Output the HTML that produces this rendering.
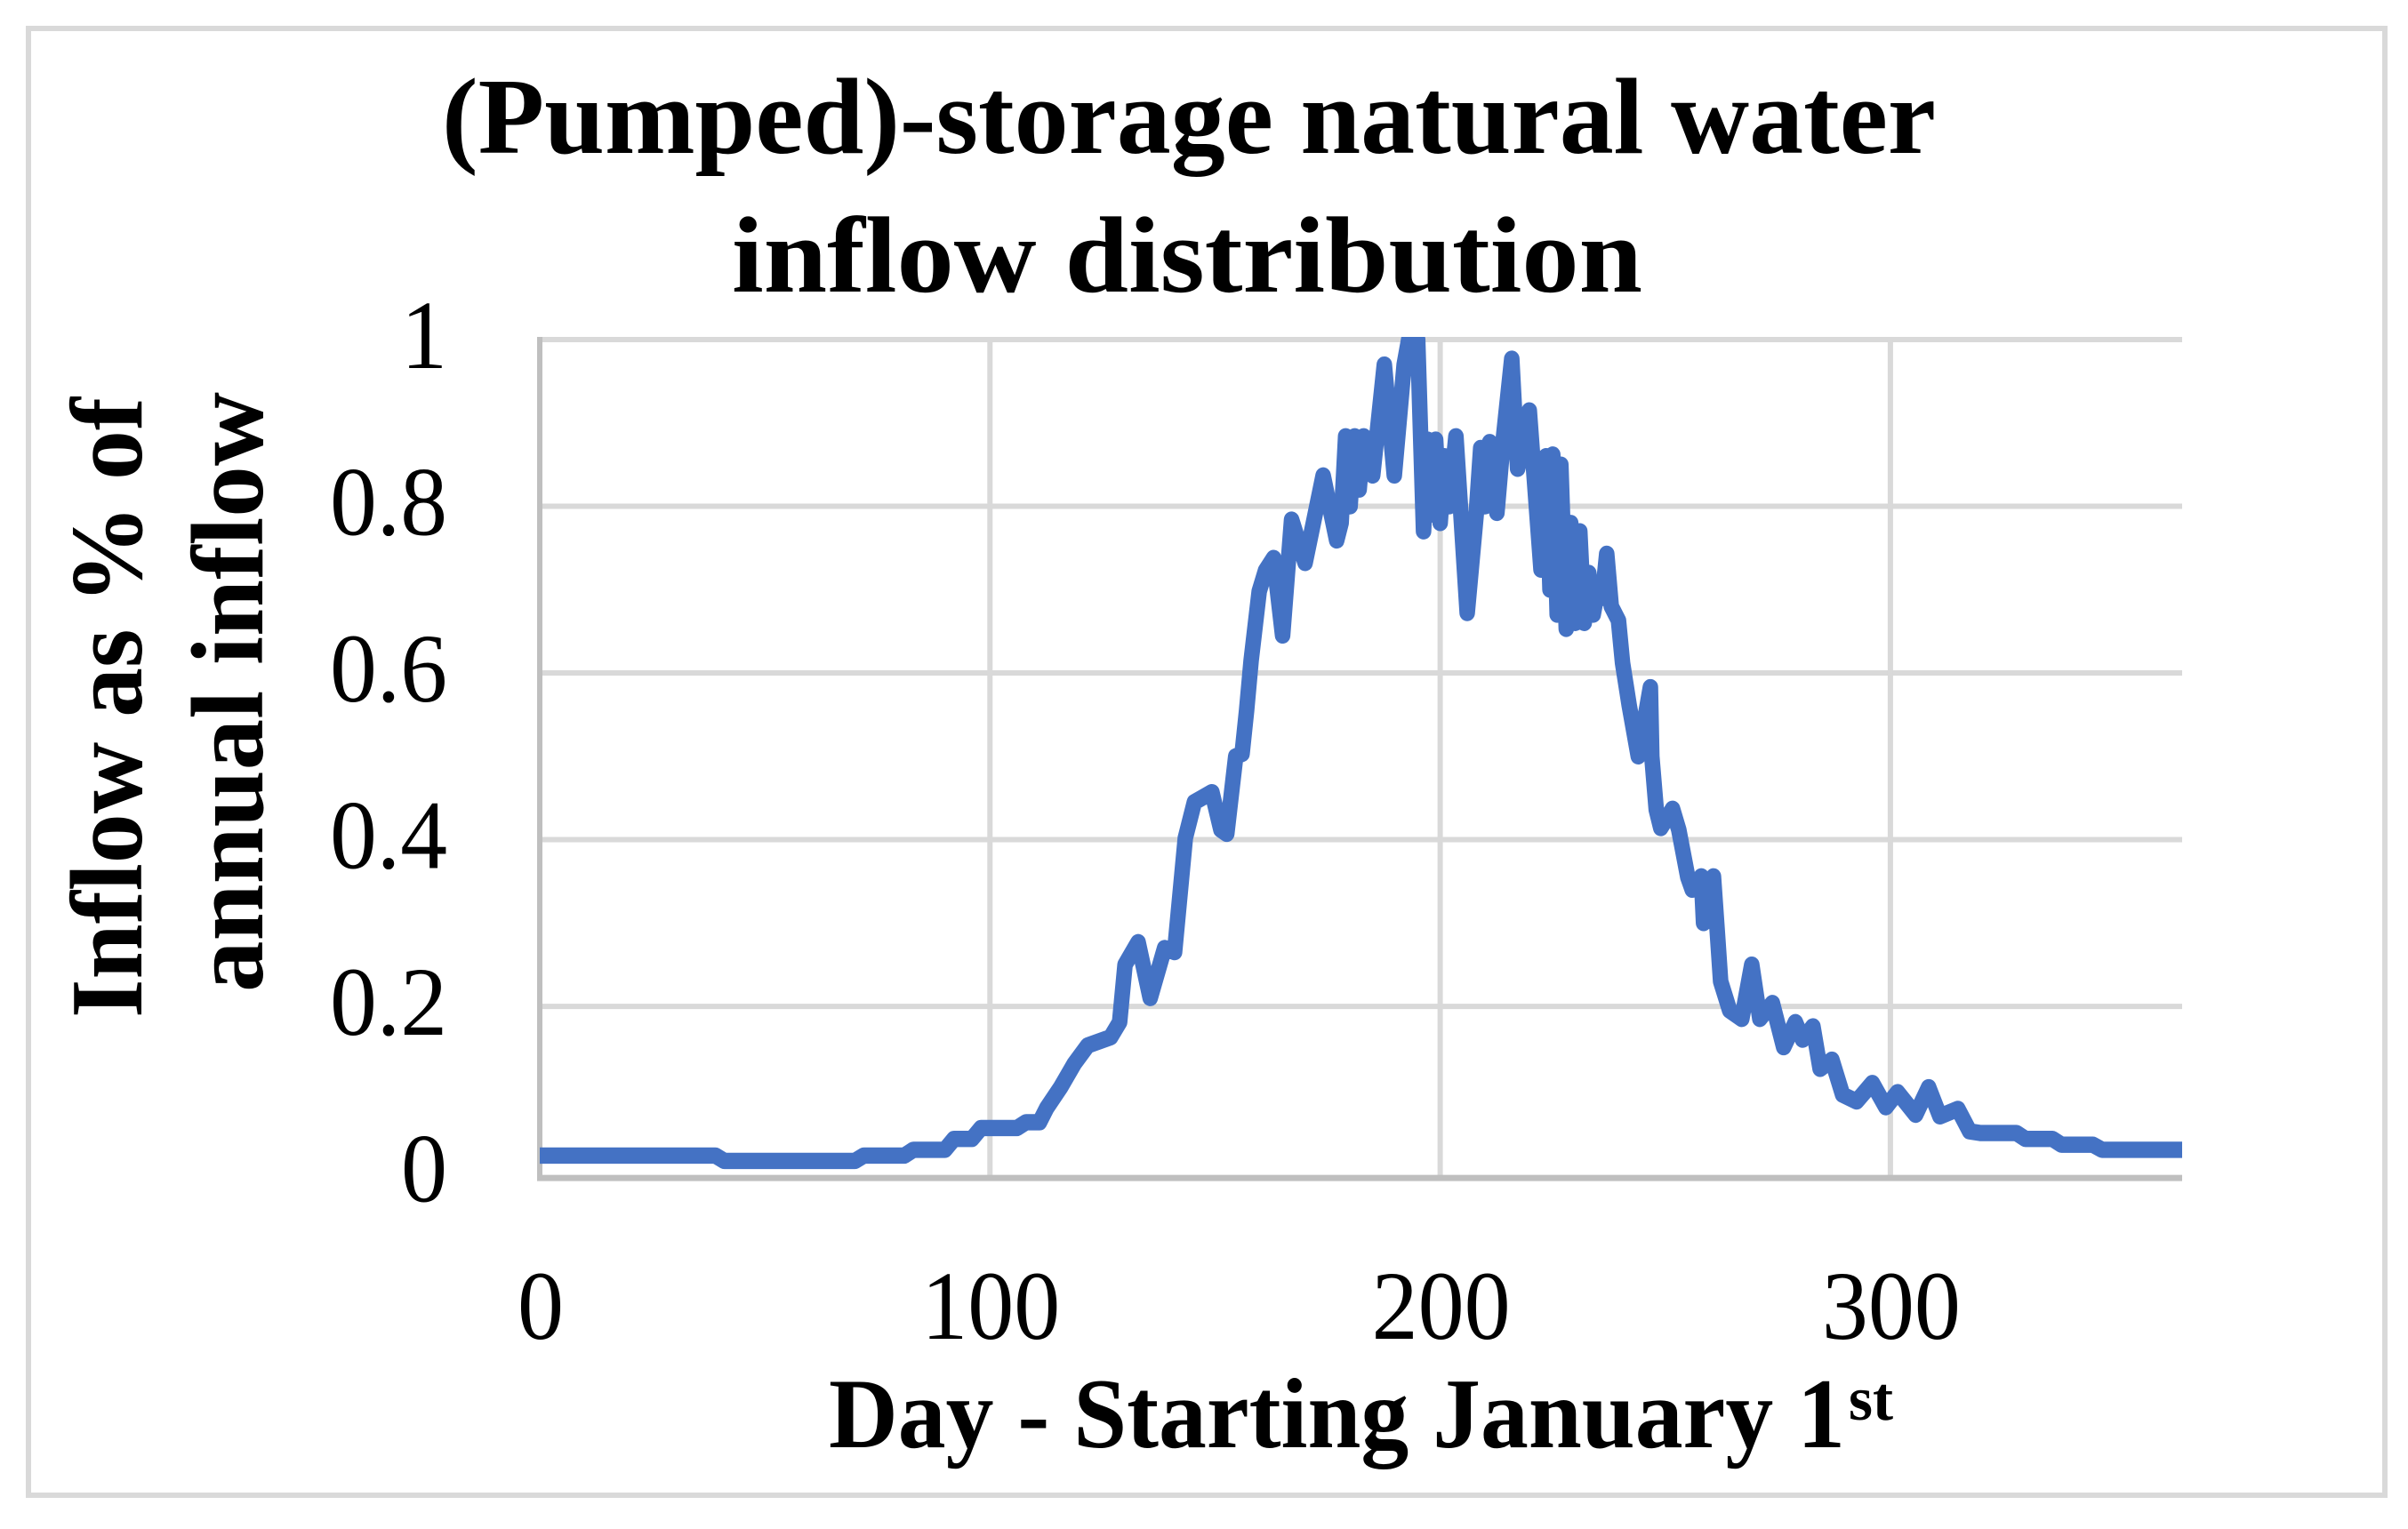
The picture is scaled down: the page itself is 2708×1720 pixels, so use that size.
<!DOCTYPE html>
<html>
<head>
<meta charset="utf-8">
<title>(Pumped)-storage natural water inflow distribution</title>
<style>
html,body{margin:0;padding:0;background:#fff;}
svg{display:block;}
text{font-family:"Liberation Serif",serif;fill:#000;}
.b{font-weight:bold;}
</style>
</head>
<body>
<svg id="chart" xmlns="http://www.w3.org/2000/svg" width="2708" height="1720" viewBox="0 0 2708 1720">
<rect x="0" y="0" width="2708" height="1720" fill="#fff"/>
<rect x="32" y="32" width="2650" height="1650" fill="none" stroke="#d9d9d9" stroke-width="6"/>
<defs><clipPath id="plot-clip"><rect x="607" y="379" width="1847" height="960"/></clipPath></defs>
<g id="grid"></g>
<g id="axes"></g>
<g id="series" clip-path="url(#plot-clip)"></g>
<g id="ticks"></g>
<text class="b" x="497" y="172" font-size="122" textLength="1680" lengthAdjust="spacingAndGlyphs">(Pumped)-storage natural water</text>
<text class="b" x="823" y="328" font-size="122" textLength="1024" lengthAdjust="spacingAndGlyphs">inflow distribution</text>
<text class="b" x="932" y="1628" font-size="112" textLength="1143" lengthAdjust="spacingAndGlyphs">Day - Starting January 1</text>
<text class="b" x="2079" y="1597" font-size="70" textLength="50" lengthAdjust="spacingAndGlyphs">st</text>
<text class="b" transform="translate(159,1145) rotate(-90)" x="0" y="0" font-size="115" textLength="698" lengthAdjust="spacingAndGlyphs">Inflow as % of</text>
<text class="b" transform="translate(295,1116) rotate(-90)" x="0" y="0" font-size="115" textLength="675" lengthAdjust="spacingAndGlyphs">annual inflow</text>
</svg>
<script>
const xTickValues = [0, 100, 200, 300];
const yTickValues = [0, 0.2, 0.4, 0.6, 0.8, 1];
const yTickLabels = ["0", "0.2", "0.4", "0.6", "0.8", "1"];
const days = [
0,39,41,70,72,81,83,90,92,96,98,106,108,111,112.6,115.7,118.7,121.7,126.8,128.8,
130,132.9,135.6,138.8,141,143.4,145.4,149.3,151.3,152.6,154.6,156,157,158,159.8,161.2,163,165,167,170,
174,177,178,179,180,181,182,183,185,187.6,189.8,192,193,195,196.3,197.2,198,199,200,201,
202,203.5,206,208,209,210,211,212.6,214,215.9,217.2,219.8,222.4,223.5,224.4,225,226,226.8,228,229,
230,231,232,233,234,235,236,237,238,239.6,240.5,242,244,246.7,247,248,249,251.6,253,255,
256,258,258.5,260.7,261.5,262.3,264.3,267,269.2,271,273.8,276.3,278.9,280.5,282.8,284.4,287,289.4,292.5,296,
299,301.6,305.6,308.5,311,315,317.6,320,328,330,336,338,345,347,364.8
];
const inflow = [
0.021,0.021,0.0145,0.0145,0.021,0.021,0.028,0.028,0.041,0.041,0.054,0.054,0.061,0.061,0.078,0.103,0.131,0.153,0.163,0.181,
0.25,0.277,0.21,0.27,0.265,0.402,0.445,0.457,0.412,0.407,0.50,0.503,0.555,0.615,0.698,0.723,0.738,0.645,0.784,0.732,
0.837,0.759,0.78,0.884,0.80,0.884,0.82,0.884,0.837,0.97,0.837,0.97,1.0,1.0,0.77,0.88,0.79,0.88,0.78,0.86,
0.80,0.884,0.672,0.79,0.87,0.80,0.877,0.792,0.88,0.977,0.845,0.915,0.724,0.86,0.70,0.862,0.67,0.85,0.653,0.78,
0.66,0.77,0.66,0.72,0.67,0.70,0.69,0.743,0.68,0.663,0.612,0.561,0.50,0.583,0.50,0.436,0.414,0.437,0.412,0.355,
0.34,0.356,0.30,0.356,0.293,0.23,0.195,0.185,0.25,0.185,0.204,0.151,0.181,0.16,0.176,0.125,0.136,0.094,0.086,0.108,
0.079,0.097,0.07,0.103,0.068,0.077,0.05,0.048,0.048,0.041,0.041,0.034,0.034,0.028,0.028
];

const SVGNS = "http://www.w3.org/2000/svg";
function xScale(d){ return 607 + 5.063 * d; }
function yScale(v){ return 1319.6 - 937.6 * v; }
const plotRight = 2454;
const axisY = yScale(0) + 5.5;

const gridG = document.getElementById('grid');
const axesG = document.getElementById('axes');
const seriesG = document.getElementById('series');
const ticksG = document.getElementById('ticks');

function line(parent, x1, y1, x2, y2, color, width){
  const l = document.createElementNS(SVGNS, 'line');
  l.setAttribute('x1', x1);
  l.setAttribute('y1', y1);
  l.setAttribute('x2', x2);
  l.setAttribute('y2', y2);
  l.setAttribute('stroke', color);
  l.setAttribute('stroke-width', width);
  parent.appendChild(l);
  return l;
}
function label(str, x, y, anchor, len){
  const t = document.createElementNS(SVGNS, 'text');
  t.setAttribute('x', x);
  t.setAttribute('y', y);
  t.setAttribute('font-size', 110);
  t.setAttribute('text-anchor', anchor);
  t.setAttribute('textLength', len);
  t.setAttribute('lengthAdjust', 'spacingAndGlyphs');
  t.textContent = str;
  ticksG.appendChild(t);
  return t;
}
function labelLen(str){
  let n = 0;
  for (const c of str) n += (c === '.') ? 28 : 52;
  return n;
}

yTickValues.forEach(function(v, i){
  if (v !== 0) {
    const g = line(gridG, 607, yScale(v), plotRight, yScale(v), '#d9d9d9', 6);
    
    
  }
  const t = label(yTickLabels[i], 503, yScale(v) + 32, 'end', labelLen(yTickLabels[i]));
  
  
});

xTickValues.forEach(function(d){
  if (d !== 0) {
    const g = line(gridG, xScale(d), yScale(1), xScale(d), axisY, '#d9d9d9', 6);
    
    
  }
  const s = String(d);
  const t = label(s, xScale(d) + 1, 1506, 'middle', labelLen(s));
  
  
});

const yAxisLine = line(axesG, xScale(0), yScale(1) - 3, xScale(0), axisY + 3, '#bfbfbf', 6);


const xAxisLine = line(axesG, xScale(0) - 3, axisY, plotRight, axisY, '#bfbfbf', 7);



/* The source image is stretched vertically, so the stroke is drawn in a y-scaled group. */
const stretch = 1.05;
const stretchG = document.createElementNS(SVGNS, 'g');
stretchG.setAttribute('transform', 'scale(1,' + stretch + ')');
seriesG.appendChild(stretchG);
const pts = days.map(function(d, i){
  return xScale(d).toFixed(1) + ',' + (yScale(inflow[i]) / stretch).toFixed(1);
}).join(' ');
const poly = document.createElementNS(SVGNS, 'polyline');
poly.setAttribute('points', pts);
poly.setAttribute('fill', 'none');
poly.setAttribute('stroke', '#4472c4');
poly.setAttribute('stroke-width', 17.5);
poly.setAttribute('stroke-linejoin', 'round');
poly.setAttribute('stroke-linecap', 'butt');


stretchG.appendChild(poly);
</script>
</body>
</html>
